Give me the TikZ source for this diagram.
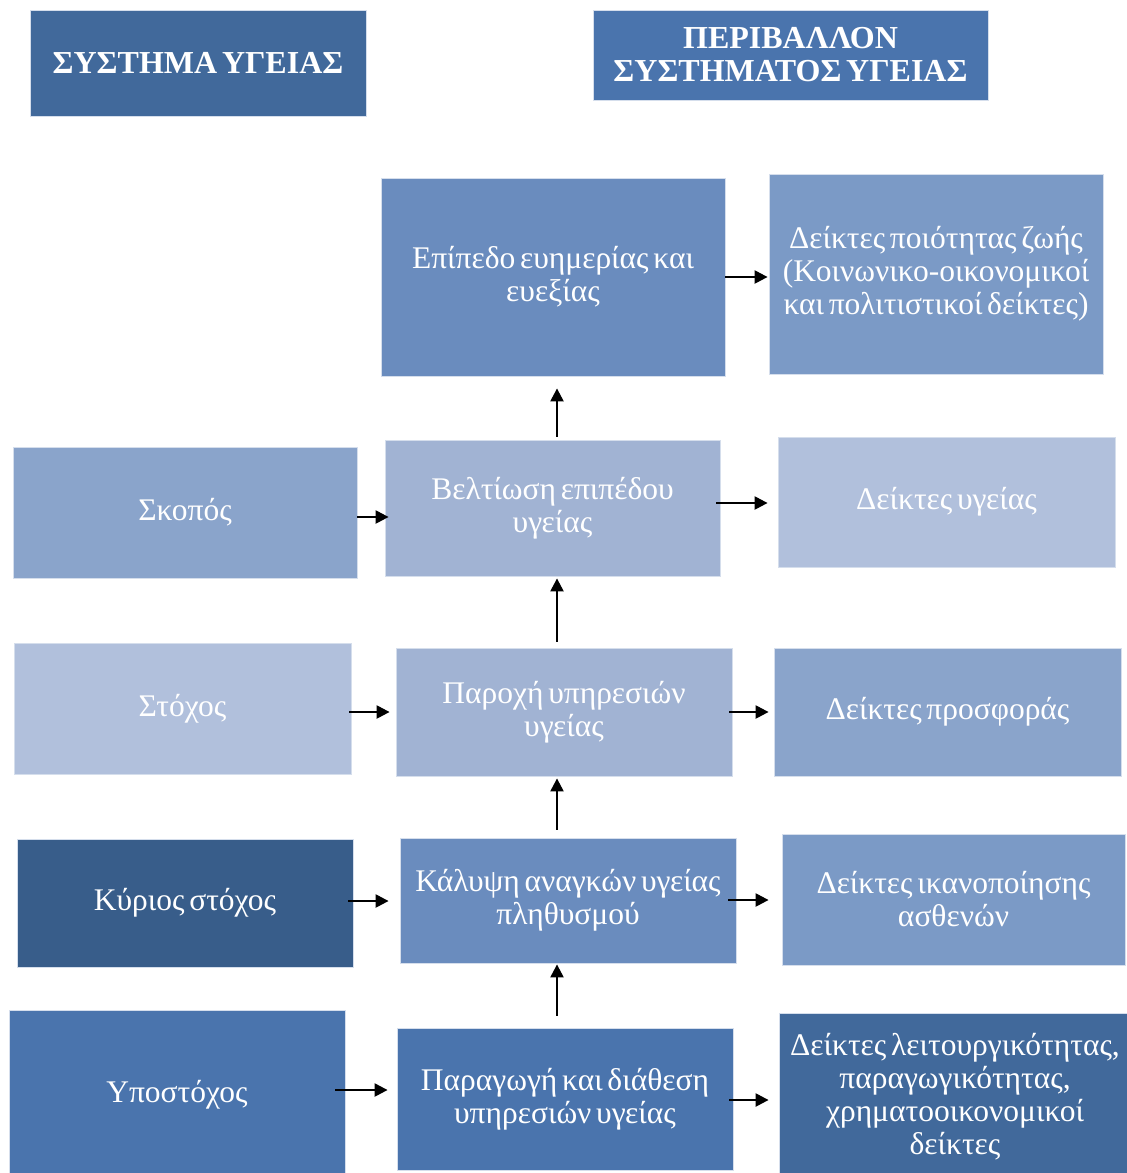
\documentclass[tikz,border=0pt]{standalone}
\usepackage{fontspec}
\setmainfont[WordSpace=0.6]{Liberation Serif}
\usetikzlibrary{arrows.meta,calc}
\definecolor{cA}{HTML}{41699B}
\definecolor{cB}{HTML}{4A74AD}
\definecolor{cC}{HTML}{6A8CBE}
\definecolor{cD}{HTML}{7B9AC6}
\definecolor{cE}{HTML}{8AA4CB}
\definecolor{cF}{HTML}{A1B3D3}
\definecolor{cG}{HTML}{B1C0DC}
\definecolor{cH}{HTML}{385D8A}
\definecolor{edge}{HTML}{D5DEEC}
\tikzset{
  box/.style={draw=edge, line width=0.8pt, text=white, align=center, inner sep=0pt,
    font=\fontsize{31.5}{33}\selectfont},
  title/.style={box, font=\fontsize{32}{33}\selectfont\bfseries},
  arr/.style={line width=2.3pt, -{Triangle[length=13pt,width=13pt]}},
}
\begin{document}
\begin{tikzpicture}[x=1pt,y=-1pt]
\useasboundingbox (0,0) rectangle (1127,1173);
\begin{scope}
\clip (0,0) rectangle (1127,1173);
% titles
\node[title, fill=cA, minimum width=336pt, minimum height=106pt] (sys) at (198,63) {ΣΥΣΤΗΜΑ ΥΓΕΙΑΣ};
\node[title, fill=cB, minimum width=395pt, minimum height=90pt] (env) at (790.5,55) {ΠΕΡΙΒΑΛΛΟΝ\\ΣΥΣΤΗΜΑΤΟΣ ΥΓΕΙΑΣ};
% row 1
\node[box, fill=cC, minimum width=344pt, minimum height=198pt] (epip) at (553,277) {Επίπεδο ευημερίας και\\ευεξίας};
\node[box, fill=cD, minimum width=334pt, minimum height=200pt] (dzoi) at (936,274) {Δείκτες ποιότητας ζωής\\(Κοινωνικο-οικονομικοί\\και πολιτιστικοί δείκτες)};
% row 2
\node[box, fill=cE, minimum width=344pt, minimum height=131pt] (skopos) at (185,512.5) {Σκοπός};
\node[box, fill=cF, minimum width=335pt, minimum height=136pt] (velt) at (552.5,508) {Βελτίωση επιπέδου\\υγείας};
\node[box, fill=cG, minimum width=337pt, minimum height=130pt] (dyg) at (946.5,502) {Δείκτες υγείας};
% row 3
\node[box, fill=cG, minimum width=337pt, minimum height=131pt] (stoxos) at (182.5,708.5) {Στόχος};
\node[box, fill=cF, minimum width=336pt, minimum height=128pt] (paroxi) at (564,712) {Παροχή υπηρεσιών\\υγείας};
\node[box, fill=cE, minimum width=347pt, minimum height=128pt] (dprosf) at (947.5,712) {Δείκτες προσφοράς};
% row 4
\node[box, fill=cH, minimum width=336pt, minimum height=128pt] (kyrios) at (185,903) {Κύριος στόχος};
\node[box, fill=cC, minimum width=336pt, minimum height=125pt] (kalypsi) at (568,900.5) {Κάλυψη αναγκών υγείας\\πληθυσμού};
\node[box, fill=cD, minimum width=343pt, minimum height=131pt] (dikan) at (953.5,899.5) {Δείκτες ικανοποίησης\\ασθενών};
% row 5
\node[box, fill=cB, minimum width=336pt, minimum height=170pt] (ypost) at (177,1095) {Υποστόχος};
\node[box, fill=cB, minimum width=336pt, minimum height=142pt] (parag) at (565,1099) {Παραγωγή και διάθεση\\υπηρεσιών υγείας};
\node[box, fill=cA, minimum width=352pt, minimum height=168pt] (dleit) at (955,1097) {Δείκτες λειτουργικότητας,\\παραγωγικότητας,\\χρηματοοικονομικοί\\δείκτες};
\end{scope}
% horizontal arrows
\draw[arr] (epip.east |- 0,277) -- ([xshift=-1pt]dzoi.west |- 0,277);
\draw[arr] (skopos.east |- 0,517) -- ([xshift=4pt]velt.west |- 0,517);
\draw[arr] ([xshift=-4pt]velt.east |- 0,503) -- ([xshift=-10pt]dyg.west |- 0,503);
\draw[arr] ([xshift=-2pt]stoxos.east |- 0,712) -- ([xshift=-6pt]paroxi.west |- 0,712);
\draw[arr] ([xshift=-3pt]paroxi.east |- 0,712) -- ([xshift=-5pt]dprosf.west |- 0,712);
\draw[arr] ([xshift=-5pt]kyrios.east |- 0,901) -- ([xshift=-11pt]kalypsi.west |- 0,901);
\draw[arr] ([xshift=-8pt]kalypsi.east |- 0,900) -- ([xshift=-13pt]dikan.west |- 0,900);
\draw[arr] ([xshift=-10pt]ypost.east |- 0,1090) -- ([xshift=-9pt]parag.west |- 0,1090);
\draw[arr] ([xshift=-4pt]parag.east |- 0,1100) -- ([xshift=-10pt]dleit.west |- 0,1100);
% vertical arrows
\draw[arr] ([yshift=3pt]velt.north -| 557,0) -- ([yshift=-12pt]epip.south -| 557,0);
\draw[arr] ([yshift=6pt]paroxi.north -| 557,0) -- ([yshift=-2pt]velt.south -| 557,0);
\draw[arr] ([yshift=8pt]kalypsi.north -| 557,0) -- ([yshift=-2pt]paroxi.south -| 557,0);
\draw[arr] ([yshift=12pt]parag.north -| 557,0) -- ([yshift=-1pt]kalypsi.south -| 557,0);
\end{tikzpicture}
\end{document}
